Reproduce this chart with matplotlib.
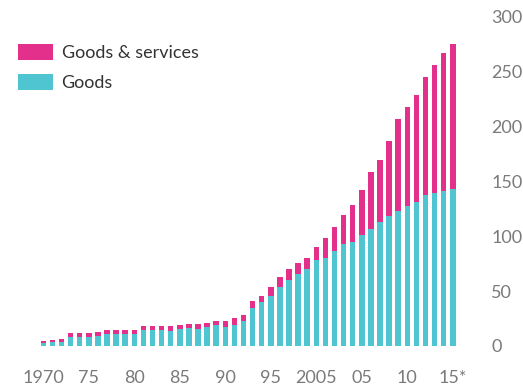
import numpy as np
import matplotlib
matplotlib.use("Agg")
import matplotlib.pyplot as plt

# data
years = list(range(1970, 2016))
goods = [2.5, 3.6, 3.6, 7.9, 7.9, 7.9, 8.8, 10.6, 10.6, 10.6,
         10.6, 14.3, 14.3, 14.3, 13.4, 15.2, 16.4, 15.2, 17.0, 18.8,
         17.0, 18.8, 22.4, 34.5, 39.8, 45.2, 54.2, 59.7, 65.2, 69.7,
         77.9, 80.6, 87.0, 92.5, 95.2, 101.5, 107.0, 113.4, 118.8, 123.4,
         127.9, 131.5, 137.9, 139.2, 141.0, 142.7]
total = [4.3, 5.2, 6.1, 11.5, 11.5, 11.5, 12.5, 14.3, 14.3, 14.3,
         14.3, 17.9, 17.9, 17.9, 17.9, 18.8, 20.0, 20.0, 20.6, 22.4,
         22.4, 25.2, 27.9, 40.6, 46.0, 54.2, 62.5, 69.7, 75.2, 80.6,
         90.6, 98.8, 108.8, 119.7, 128.8, 142.5, 158.8, 169.7, 186.9, 206.9,
         217.9, 228.8, 245.2, 256.1, 267.0, 275.2]
services = [t - g for t, g in zip(total, goods)]

tick_years = [1970, 1975, 1980, 1985, 1990, 1995, 2000, 2005, 2010, 2015]
tick_labels = ['1970', '75', '80', '85', '90', '95', '2005', '05', '10', '15*']

pink = '#e2308b'
cyan = '#4fc5d2'
grey = '#7a7a7a'

plt.rcParams['font.family'] = ['Lato', 'DejaVu Sans']

fig = plt.figure(figsize=(5.23, 3.87), dpi=100)
ax = fig.add_axes([30 / 523, 41 / 387, 435 / 523, 329.3 / 387])

x = np.arange(len(years))
ax.bar(x, goods, width=0.6, color=cyan, label='Goods')
ax.bar(x, services, bottom=goods, width=0.6, color=pink, label='Goods & services')

ax.set_xlim((30 - 43.3) / 9.1, (465 - 43.3) / 9.1)
ax.set_ylim(0, 300)

ax.set_xticks([years.index(y) for y in tick_years])
ax.set_xticklabels(tick_labels, fontsize=13, color=grey)
ax.set_yticks(range(0, 301, 50))
ax.yaxis.tick_right()
ax.tick_params(axis='y', length=0, pad=19, labelsize=13, labelcolor=grey)
ax.tick_params(axis='x', length=0, pad=17)
for lab in ax.get_yticklabels():
    lab.set_horizontalalignment('left')

for s in ax.spines.values():
    s.set_visible(False)

h, l = ax.get_legend_handles_labels()
leg = fig.legend(h[::-1], l[::-1], loc='upper left', bbox_to_anchor=(11 / 523, 1 - 37 / 387),
                 frameon=False, fontsize=13, handlelength=1.9, handleheight=1.0,
                 handletextpad=0.5, labelspacing=0.7, borderaxespad=0)
for t in leg.get_texts():
    t.set_color('#333333')

fig.savefig('out.png', dpi=100)
